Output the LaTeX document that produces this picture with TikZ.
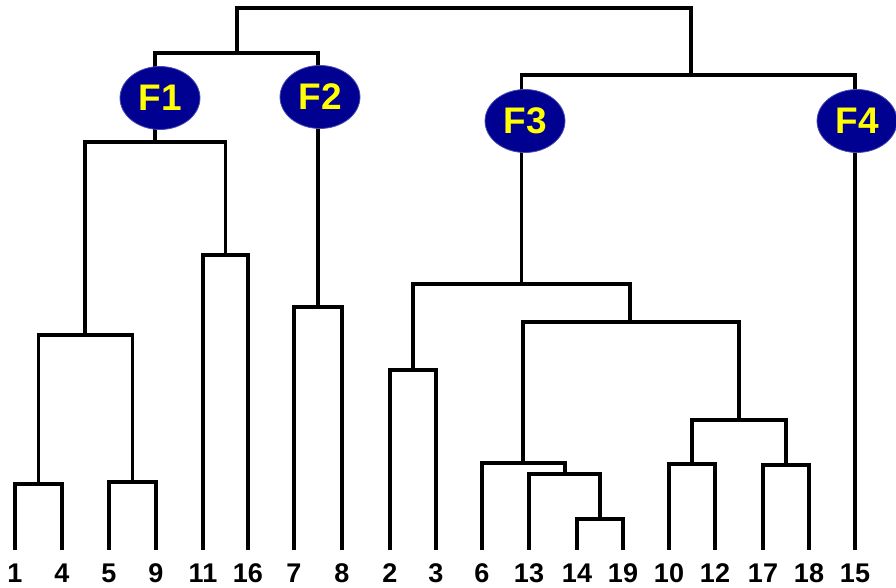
\documentclass[tikz,border=0pt]{standalone}
\usepackage{fontspec}
\setmainfont{Liberation Sans}
\usetikzlibrary{shapes.geometric}
\definecolor{clusterblue}{RGB}{0,0,145}
\definecolor{clusteryellow}{RGB}{255,255,0}
\tikzset{
  branch/.style={line width=3.5pt, line cap=rect, line join=miter, black},
  leaflabel/.style={anchor=base, inner sep=0pt, font=\fontsize{27}{27}\selectfont\bfseries},
  cluster/.style={ellipse, fill=clusterblue, draw=clusterblue!70, line width=0.8pt,
    minimum width=80pt, minimum height=63pt, inner sep=0pt,
    text=clusteryellow, font=\fontsize{37}{37}\selectfont\bfseries},
}
\begin{document}
\begin{tikzpicture}[x=1pt, y=-1pt]
\useasboundingbox (0,0) rectangle (896,588);

% leaf labels
\foreach \name/\xx in {1/15, 4/62, 5/109, 9/156, 11/203, 16/248, 7/294, 8/342,
                       2/390, 3/436, 6/482, 13/529, 14/577, 19/623, 10/669,
                       12/715, 17/763, 18/809, 15/855} {
  \node[leaflabel] (l\name) at (\xx,582) {\name};
  \coordinate (t\name) at (\xx,548);
}

% junction points
\coordinate (m14)   at (38.5,484);
\coordinate (m59)   at (132.5,482);
\coordinate (mA)    at (85,335);
\coordinate (m1116) at (225.5,255);
\coordinate (mF1)   at (155,142);
\coordinate (m78)   at (318,307);
\coordinate (T12)   at (237,53);
\coordinate (m23)   at (413,370);
\coordinate (m1419) at (600,519);
\coordinate (m13x)  at (565,474);
\coordinate (m6x)   at (523,463);
\coordinate (m1012) at (692,464);
\coordinate (m1718) at (786,465);
\coordinate (m10x)  at (739,420);
\coordinate (mR)    at (630,322);
\coordinate (mF3)   at (521.5,284);
\coordinate (T34)   at (691,75);
\coordinate (root)  at (464,8);

% left half of the tree
\draw[branch] (t1) |- (m14) -| (t4);
\draw[branch] (t5) |- (m59) -| (t9);
\draw[branch] (m14) |- (mA) -| (m59);
\draw[branch] (t11) |- (m1116) -| (t16);
\draw[branch] (mA) |- (mF1) -| (m1116);
\draw[branch] (t7) |- (m78) -| (t8);
\draw[branch] (mF1) |- (T12) -| (m78);

% right half of the tree
\draw[branch] (t2) |- (m23) -| (t3);
\draw[branch] (t14) |- (m1419) -| (t19);
\draw[branch] (t13) |- (m13x) -| (m1419);
\draw[branch] (t6) |- (m6x) -| (m13x);
\draw[branch] (t10) |- (m1012) -| (t12);
\draw[branch] (t17) |- (m1718) -| (t18);
\draw[branch] (m1012) |- (m10x) -| (m1718);
\draw[branch] (m6x) |- (mR) -| (m10x);
\draw[branch] (m23) |- (mF3) -| (mR);
\draw[branch] (mF3) |- (T34) -| (t15);

% root
\draw[branch] (T12) |- (root) -| (T34);

% cluster markers
\node[cluster] (F1) at (160,98)  {F1};
\node[cluster] (F2) at (320,97)  {F2};
\node[cluster] (F3) at (525,121) {F3};
\node[cluster] (F4) at (857,121) {F4};
\end{tikzpicture}
\end{document}
